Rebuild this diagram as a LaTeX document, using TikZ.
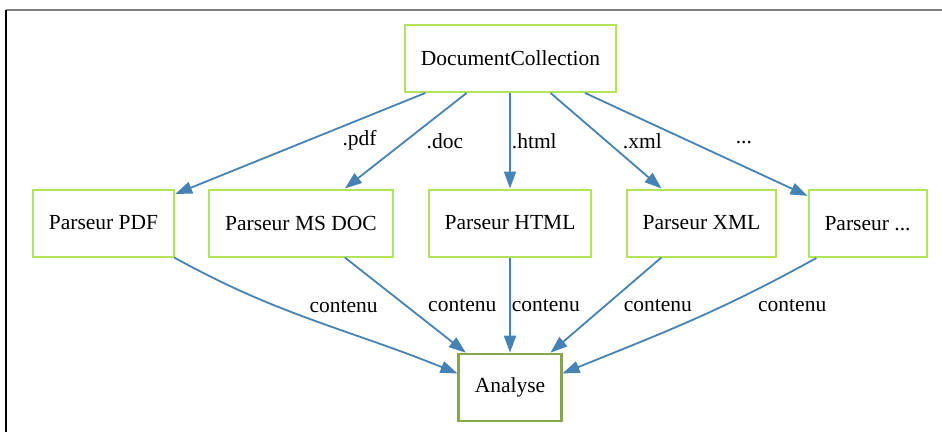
\documentclass[tikz,border=0pt]{standalone}
\usepackage{xcolor}
\usepackage{fontspec}
\setmainfont{Liberation Serif}
\usepackage{tikz}
\usetikzlibrary{arrows.meta,positioning}

\definecolor{parsergreen}{HTML}{B2E45A}
\definecolor{analysegreen}{HTML}{86A84A}
\definecolor{edgeblue}{HTML}{4682B4}

\begin{document}
\begin{tikzpicture}[x=1pt, y=-1pt,
    box/.style={rectangle, draw=parsergreen, line width=2pt, minimum height=67pt,
                inner xsep=16pt, align=center, font=\fontsize{21.5}{26}\selectfont},
    mainbox/.style={box, draw=analysegreen, line width=2.6pt},
    arrow/.style={-{Triangle[length=17pt, width=12pt]}, line width=1.8pt, draw=edgeblue},
    note/.style={font=\fontsize{21.5}{26}\selectfont, inner sep=0pt}
]
    \useasboundingbox (0,0) rectangle (942,432);

    % frame
    \draw[gray, line width=2pt] (6,10) -- (942,10);
    \draw[black, line width=1.2pt] (6,10) -- (6,432);

    % Collection
    \node[box] (coll) at (510.5,58.5) {DocumentCollection};

    % Parsers
    \node[box] (pdf) at (103.5,223) {Parseur PDF};
    \node[box] (msdoc) at (301,223) {Parseur MS DOC};
    \node[box] (html) at (510,223) {Parseur HTML};
    \node[box] (xml) at (701.5,223) {Parseur XML};
    \node[box] (other) at (867.5,223.5) {Parseur ...};

    % Analyse
    \node[mainbox] (analyse) at (510,387.5) {Analyse};

    \draw[arrow] (coll) -- node[pos=.47, note, right=34pt] {.pdf} (pdf);
    \draw[arrow] (coll) -- node[pos=.5, note, right=20pt] {.doc} (msdoc);
    \draw[arrow] (coll.south -| html) -- node[pos=.5, note, right=1pt] {.html} (html);
    \draw[arrow] (coll) -- node[pos=.5, note, right=16pt] {.xml} (xml);
    \draw[arrow] (coll) -- node[pos=.48, note, right=43pt] {...} (other);

    \draw[arrow] (pdf.-26) to[out=-29, in=158] node[pos=.36, note, right=32pt] {contenu} (analyse.165);
    \draw[arrow] (msdoc) -- node[pos=.5, note, right=22pt] {contenu} (analyse);
    \draw[arrow] (html) -- node[pos=.5, note, right=1pt] {contenu} (analyse);
    \draw[arrow] (xml) -- node[pos=.5, note, right=17pt] {contenu} (analyse);
    \draw[arrow] (other.-146) to[out=-151, in=22] node[pos=.36, note, right=33pt] {contenu} (analyse.15);

\end{tikzpicture}
\end{document}
